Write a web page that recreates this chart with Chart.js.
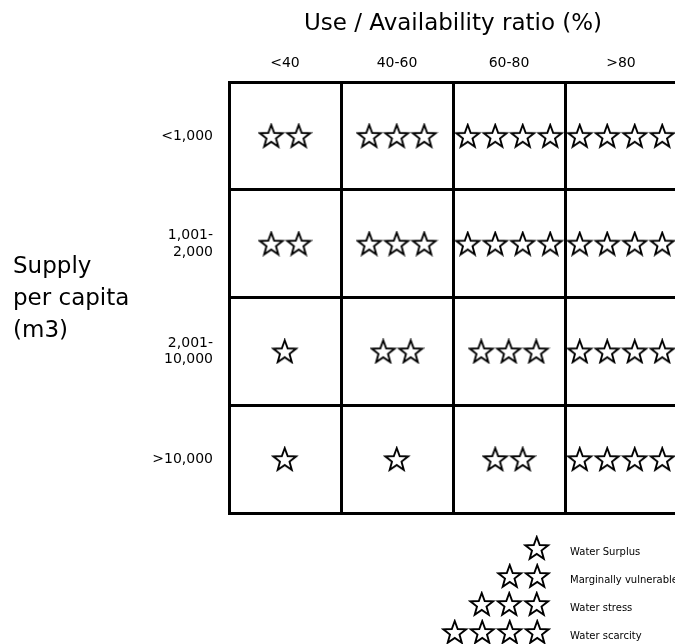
<!DOCTYPE html>
<html>
<head>
<meta charset="utf-8">
<script src="https://cdn.jsdelivr.net/npm/chart.js@4.4.1/dist/chart.umd.min.js"></script>
<style>
    html, body { margin: 0; padding: 0; background: #fff; overflow: hidden; }
    #wrap { width: 690px; height: 644px; }
</style>
</head>
<body>
<div id="wrap"><canvas id="chart-canvas" width="690" height="644"></canvas></div>
<script>
// columns: use / availability ratio, rows: supply per capita
const COLS = ["<40", "40-60", "60-80", ">80"];
const ROWS = ["<1,000", "1,001-2,000", "2,001-10,000", ">10,000"];

// number of stars in each cell, one array per row
const STARS_1000  = [2, 3, 4, 4];
const STARS_2000  = [2, 3, 4, 4];
const STARS_10000 = [1, 2, 3, 4];
const STARS_OVER  = [1, 1, 2, 4];

const LEGEND_LABELS = ["Water Surplus", "Marginally vulnerable", "Water stress", "Water scarcity"];
const Y_TITLE = ["Supply", "per capita", "(m3)"];

const FONT = "'DejaVu Sans', sans-serif";

const starCache = {};
function starImage(n) {
    if (starCache[n])
        return starCache[n];
    const step = 27.5;
    const c = document.createElement("canvas");
    c.width = Math.round(n * step);
    c.height = 26;
    const g = c.getContext("2d");
    g.strokeStyle = "#000";
    g.lineWidth = 1.9;
    for (let k = 0; k < n; k++) {
        const cx = step / 2 + k * step;
        const cy = 14;
        g.beginPath();
        for (let i = 0; i < 10; i++) {
            const r = i % 2 === 0 ? 12 : 5;
            const a = -Math.PI / 2 + i * Math.PI / 5;
            const px = cx + r * Math.cos(a);
            const py = cy + r * Math.sin(a);
            if (i === 0) g.moveTo(px, py); else g.lineTo(px, py);
        }
        g.closePath();
        g.stroke();
    }
    starCache[n] = c;
    return c;
}

const CELLS = [];
[STARS_1000, STARS_2000, STARS_10000, STARS_OVER].forEach(function (row, r) {
    row.forEach(function (n, c) {
        CELLS.push({x: COLS[c], y: ROWS[r], n: n});
    });
});

// "1,001-2,000" -> two lines "1,001-" / "2,000"
function splitRange(label) {
    const i = label.indexOf("-");
    if (i > 0 && i < label.length - 1)
        return [label.slice(0, i + 1), label.slice(i + 1)];
    return label;
}

const sideText = {
    id: "sideText",
    afterDraw(chart) {
        const ctx = chart.ctx;
        ctx.save();
        ctx.fillStyle = "#000";
        ctx.textBaseline = "middle";
        ctx.textAlign = "left";
        ctx.font = "23px " + FONT;
        Y_TITLE.forEach(function (t, i) {
            ctx.fillText(t, 13, 267 + i * 32);
        });

        ctx.font = "10px " + FONT;
        LEGEND_LABELS.forEach(function (t, i) {
            const img = starImage(i + 1);
            const y = 549 + i * 28;
            ctx.drawImage(img, 551 - img.width, y - 14);
            ctx.fillText(t, 570, y + 3);
        });
        ctx.restore();
    }
};

const context = document.getElementById("chart-canvas").getContext("2d");
const gridStyle = {offset: true, color: "#000", lineWidth: 3, drawTicks: false};

const chart = new Chart(context, {
    type: "scatter",
    data: {
        datasets: [{
            data: CELLS,
            pointStyle: (c) => starImage(c.raw.n),
            pointRadius: 12,
            pointHoverRadius: 12
        }]
    },
    options: {
        responsive: false,
        animation: false,
        events: [],
        layout: {padding: {top: 0, right: 10, bottom: 131, left: 0}},
        plugins: {legend: {display: false}, tooltip: {enabled: false}},
        scales: {
            x: {
                type: "category",
                labels: COLS,
                position: "top",
                offset: true,
                grid: gridStyle,
                border: {display: true, color: "#000", width: 3},
                ticks: {color: "#000", font: {family: FONT, size: 14}, padding: 10},
                title: {
                    display: true,
                    text: "Use / Availability ratio (%)",
                    color: "#000",
                    font: {family: FONT, size: 23},
                    padding: {top: 10, bottom: 0}
                },
                afterFit: (s) => { s.height = 82; }
            },
            y: {
                type: "category",
                labels: ROWS,
                offset: true,
                grid: gridStyle,
                border: {display: true, color: "#000", width: 3},
                ticks: {
                    color: "#000",
                    font: {family: FONT, size: 14},
                    padding: 16,
                    callback: function (value) {
                        return splitRange(this.getLabelForValue(value));
                    }
                },
                afterFit: (s) => { s.width = 229; }
            }
        }
    },
    plugins: [sideText]
});
</script>
</body>
</html>
